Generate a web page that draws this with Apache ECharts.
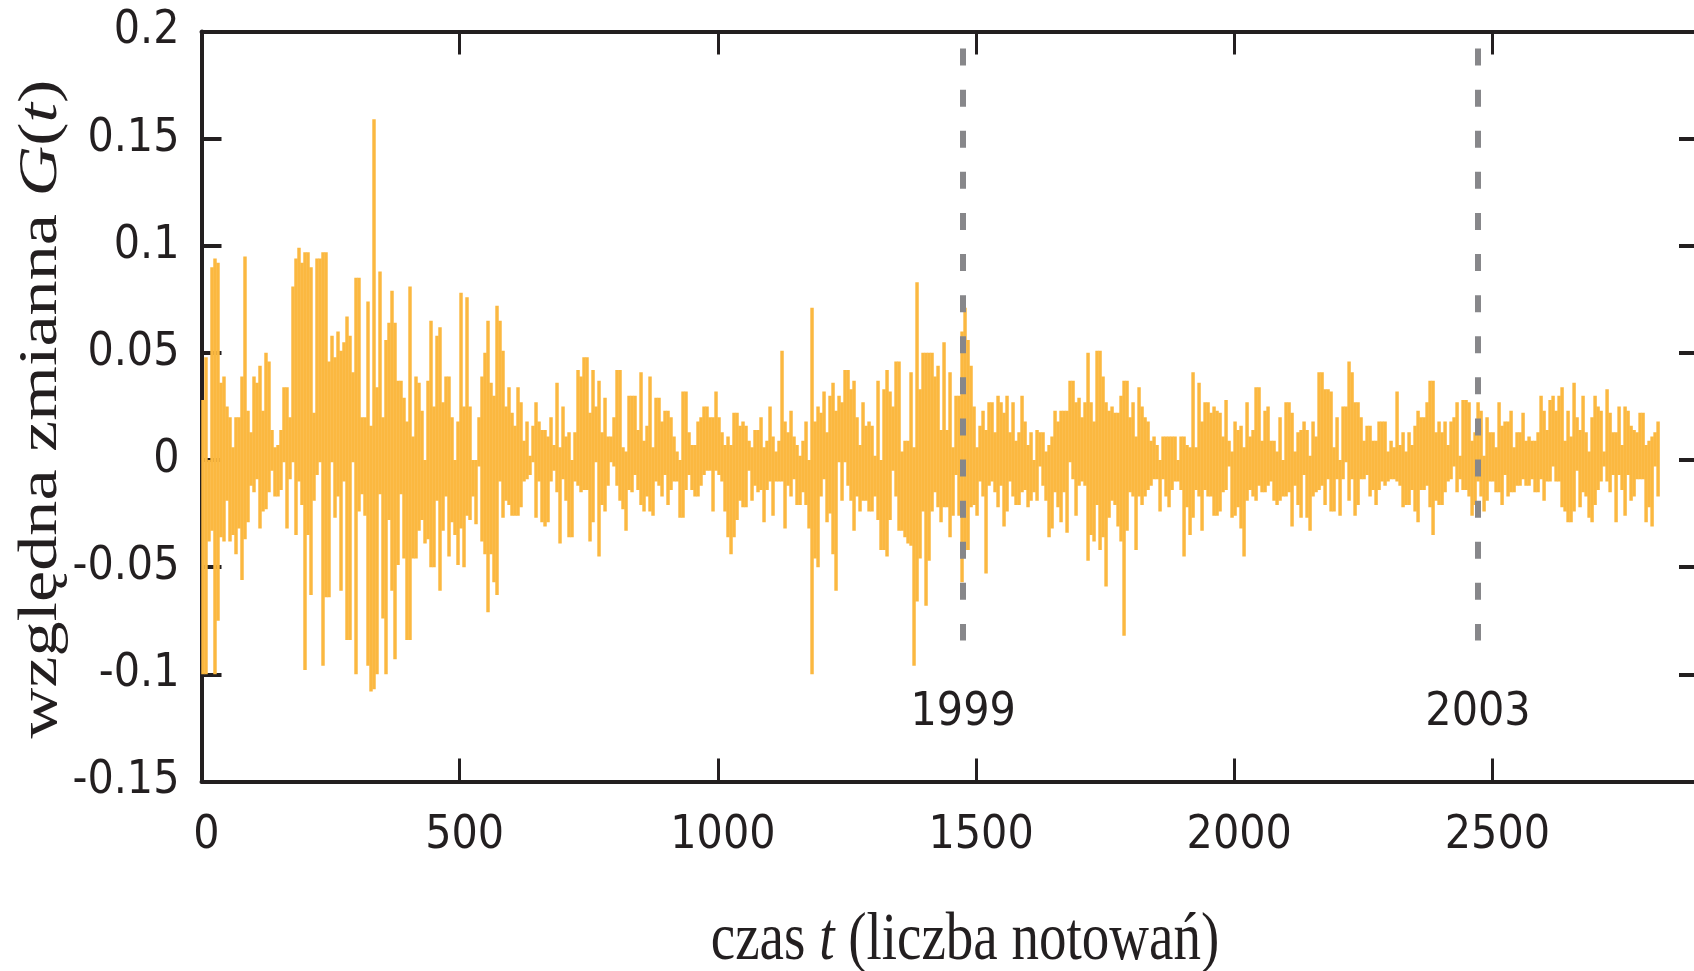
<!DOCTYPE html>
<html><head><meta charset="utf-8">
<script src="https://cdn.jsdelivr.net/npm/echarts@6/dist/echarts.min.js"></script>
<style>html,body{margin:0;padding:0;background:#fff}#c{width:1694px;height:971px}</style>
</head><body><div id="c"></div>
<script>
// ---- data (one column ≈ 5.81 time steps) ----
const T_STEP = 5.81;
const X_TICKS = [0, 500, 1000, 1500, 2000, 2500];
const Y_TICKS = [-0.15, -0.1, -0.05, 0, 0.05, 0.1, 0.15, 0.2];
const YEAR_LABELS = ['1999', '2003'];
const YEAR_T = [1475, 2472];
const DASH_TOP = 0.192, DASH_BOTTOM = -0.0842;

const HI_1 = [0.028,0.048,0.0,0.09,0.094,0.092,0.036,0.039,0.025,0.02,
0.006,0.02,0.02,0.039,0.095,0.023,0.013,0.039,0.036,0.044,
0.023,0.05,0.046,0.014,0.006,0.007,0.014,0.034,0.034,0.02,
0.081,0.094,0.099,0.092,0.097,0.097,0.09,0.022,0.094,0.094,
0.097,0.097,0.046,0.058,0.048,0.06,0.051,0.055,0.067,0.058,
0.041,0.085,0.085,0.02,0.02,0.074,0.016,0.159,0.034,0.088,
0.02,0.056,0.064,0.079,0.064,0.037,0.037,0.029,0.018,0.081,
0.011,0.039,0.036,0.023,0.0,0.037,0.065,0.025,0.058,0.062,
0.027,0.039,0.039,0.02,0.0,0.018,0.078,0.025,0.076,0.025,
0.0,0.0,0.02,0.039,0.05,0.065,0.036,0.03,0.072,0.065,
0.051,0.025,0.034,0.022,0.016,0.034,0.027,0.009,0.018,0.002,
0.016,0.027,0.018,0.014,0.014,0.011,0.02,0.007,0.036,0.006,
0.025,0.011,0.013,0.0,0.013,0.042,0.039,0.048,0.048,0.022,
0.042,0.025,0.037,0.013,0.029,0.011,0.011,0.02,0.042,0.042,
0.006,0.004,0.03,0.03,0.03,0.014,0.041,0.009,0.016,0.039,
0.006,0.029,0.029,0.018,0.023,0.023,0.02,0.011,0.004];
const LO_1 = [-0.1,-0.1,-0.038,-0.033,-0.1,-0.075,-0.036,-0.038,-0.019,-0.038,
-0.035,-0.044,-0.032,-0.056,-0.037,-0.029,-0.012,-0.015,-0.009,-0.032,
-0.024,-0.023,-0.015,-0.005,-0.017,-0.017,-0.014,-0.001,-0.032,-0.009,
-0.001,-0.035,-0.01,-0.021,-0.098,-0.035,-0.063,-0.019,-0.007,-0.001,
-0.096,-0.064,-0.064,-0.001,-0.027,-0.017,-0.061,-0.01,-0.084,-0.084,
-0.001,-0.1,-0.024,-0.016,-0.026,-0.096,-0.108,-0.107,-0.1,-0.016,
-0.074,-0.1,-0.028,-0.061,-0.093,-0.049,-0.016,-0.046,-0.084,-0.084,
-0.046,-0.046,-0.033,-0.028,-0.039,-0.037,-0.05,-0.05,-0.019,-0.061,
-0.033,-0.017,-0.045,-0.029,-0.035,-0.049,-0.032,-0.05,-0.026,-0.028,
-0.017,-0.03,-0.003,-0.038,-0.044,-0.071,-0.044,-0.057,-0.063,-0.01,
-0.027,-0.019,-0.021,-0.026,-0.026,-0.026,-0.022,-0.01,-0.009,-0.007,
-0.001,-0.027,-0.01,-0.029,-0.031,-0.029,-0.01,-0.005,-0.015,-0.039,
-0.009,-0.019,-0.036,-0.036,-0.01,-0.012,-0.015,-0.014,-0.014,-0.038,
-0.029,-0.001,-0.045,-0.021,-0.024,-0.012,-0.001,-0.003,-0.012,-0.019,
-0.023,-0.033,-0.014,-0.015,-0.007,-0.014,-0.021,-0.024,-0.017,-0.024,
-0.026,-0.01,-0.012,-0.017,-0.007,-0.021,-0.014,-0.01,-0.01];

const HI_2 = [0.0,0.032,0.032,0.013,0.007,0.007,0.018,0.02,0.025,0.025,
0.02,0.02,0.032,0.02,0.013,0.007,0.011,0.007,0.022,0.022,
0.016,0.018,0.016,0.009,0.006,0.014,0.014,0.02,0.006,0.009,
0.025,0.011,0.004,0.009,0.051,0.018,0.013,0.023,0.011,0.007,
0.002,0.009,0.018,0.0,0.071,0.018,0.025,0.022,0.032,0.013,
0.03,0.036,0.023,0.03,0.027,0.042,0.042,0.033,0.037,0.02,
0.007,0.027,0.016,0.018,0.016,0.002,0.037,0.0,0.033,0.042,
0.032,0.025,0.046,0.046,0.004,0.009,0.009,0.041,0.006,0.083,
0.033,0.05,0.05,0.05,0.05,0.039,0.044,0.014,0.055,0.014,
0.041,0.006,0.03,0.03,0.06,0.071,0.056,0.044,0.025,0.006,
0.016,0.023,0.014,0.027,0.027,0.013,0.03,0.027,0.022,0.03,
0.013,0.027,0.009,0.013,0.03,0.018,0.007,0.013,0.0,0.014,
0.013,0.013,0.004,0.007,0.011,0.023,0.018,0.023,0.023,0.023,
0.037,0.037,0.027,0.029,0.02,0.027,0.05,0.027,0.018,0.051,
0.051,0.039,0.027,0.023,0.025,0.022,0.022,0.03,0.037,0.037,
0.02,0.027,0.011,0.034,0.025,0.02,0.018,0.009,0.011,0.007,
0.0,0.011,0.011,0.011,0.011,0.011,0.0];
const LO_2 = [-0.027,-0.027,-0.014,-0.007,-0.014,-0.017,-0.017,-0.012,-0.007,-0.005,
-0.005,-0.024,-0.005,-0.007,-0.01,-0.024,-0.036,-0.044,-0.036,-0.028,
-0.019,-0.022,-0.022,-0.005,-0.019,-0.012,-0.015,-0.014,-0.029,-0.014,
-0.01,-0.026,-0.01,-0.01,-0.01,-0.032,-0.012,-0.017,-0.009,-0.021,
-0.021,-0.015,-0.021,-0.032,-0.1,-0.046,-0.05,-0.017,-0.009,-0.029,
-0.025,-0.044,-0.061,-0.001,-0.019,-0.001,-0.012,-0.019,-0.033,-0.017,
-0.024,-0.019,-0.019,-0.024,-0.024,-0.017,-0.028,-0.042,-0.042,-0.045,
-0.028,-0.005,-0.017,-0.033,-0.033,-0.036,-0.039,-0.04,-0.096,-0.066,
-0.046,-0.024,-0.068,-0.047,-0.024,-0.015,-0.022,-0.029,-0.022,-0.022,
-0.036,-0.026,-0.007,-0.026,-0.057,-0.042,-0.042,-0.022,-0.021,-0.026,
-0.01,-0.017,-0.053,-0.012,-0.01,-0.015,-0.022,-0.012,-0.031,-0.024,
-0.01,-0.017,-0.021,-0.021,-0.015,-0.014,-0.022,-0.019,-0.015,-0.019,
-0.003,-0.012,-0.019,-0.036,-0.032,-0.015,-0.022,-0.029,-0.015,-0.034,
-0.001,-0.009,-0.026,-0.012,-0.01,-0.012,-0.047,-0.035,-0.038,-0.021,
-0.042,-0.036,-0.059,-0.027,-0.019,-0.021,-0.031,-0.038,-0.082,-0.033,
-0.015,-0.017,-0.042,-0.017,-0.021,-0.017,-0.014,-0.012,-0.009,-0.009,
-0.024,-0.009,-0.017,-0.022,-0.014,-0.01,-0.01];

const HI_3 = [0.011,0.011,0.007,0.006,0.041,0.006,0.036,0.018,0.027,0.027,
0.022,0.025,0.023,0.022,0.011,0.028,0.009,0.004,0.018,0.014,
0.016,0.006,0.027,0.011,0.014,0.034,0.034,0.009,0.023,0.025,
0.009,0.009,0.004,0.02,0.0,0.027,0.027,0.022,0.004,0.013,
0.014,0.018,0.014,0.002,0.018,0.011,0.041,0.041,0.033,0.033,
0.032,0.006,0.02,0.0,0.025,0.025,0.046,0.041,0.027,0.027,
0.02,0.009,0.016,0.016,0.009,0.009,0.018,0.018,0.018,0.004,
0.009,0.006,0.032,0.007,0.013,0.004,0.013,0.007,0.016,0.023,
0.02,0.02,0.027,0.037,0.037,0.013,0.018,0.013,0.018,0.007,
0.018,0.02,0.027,0.002,0.028,0.028,0.027,0.009,0.013,0.027,
0.023,0.002,0.02,0.013,0.013,0.006,0.027,0.016,0.018,0.018,
0.023,0.006,0.013,0.013,0.022,0.009,0.011,0.009,0.009,0.013,
0.03,0.023,0.014,0.028,0.03,0.023,0.03,0.034,0.009,0.023,
0.011,0.036,0.02,0.014,0.03,0.013,0.004,0.02,0.03,0.025,
0.023,0.004,0.033,0.022,0.013,0.013,0.025,0.007,0.025,0.023,
0.016,0.014,0.013,0.022,0.022,0.007,0.009,0.011,0.013,0.018];
const LO_3 = [-0.014,-0.045,-0.022,-0.035,-0.027,-0.014,-0.017,-0.033,-0.014,-0.017,
-0.017,-0.026,-0.026,-0.024,-0.015,-0.014,-0.003,-0.027,-0.026,-0.022,
-0.032,-0.045,-0.019,-0.014,-0.017,-0.019,-0.012,-0.015,-0.015,-0.012,
-0.01,-0.019,-0.021,-0.019,-0.017,-0.017,-0.015,-0.031,-0.012,-0.021,
-0.027,-0.007,-0.027,-0.033,-0.017,-0.015,-0.014,-0.012,-0.021,-0.009,
-0.024,-0.024,-0.009,-0.026,-0.009,-0.001,-0.019,-0.009,-0.026,-0.021,
-0.009,-0.009,-0.007,-0.017,-0.014,-0.021,-0.014,-0.01,-0.012,-0.01,
-0.009,-0.009,-0.01,-0.012,-0.022,-0.021,-0.021,-0.014,-0.024,-0.029,
-0.014,-0.014,-0.012,-0.022,-0.035,-0.019,-0.021,-0.021,-0.015,-0.01,
-0.009,-0.003,-0.015,-0.009,-0.014,-0.014,-0.017,-0.026,-0.021,-0.01,
-0.017,-0.024,-0.019,-0.01,-0.01,-0.015,-0.015,-0.021,-0.007,-0.017,
-0.015,-0.015,-0.012,-0.012,-0.009,-0.012,-0.012,-0.009,-0.015,-0.015,
-0.009,-0.019,-0.01,-0.01,-0.003,-0.01,-0.01,-0.022,-0.024,-0.029,
-0.029,-0.024,-0.005,-0.022,-0.015,-0.017,-0.027,-0.029,-0.021,-0.014,
-0.01,-0.003,-0.01,-0.015,-0.007,-0.029,-0.007,-0.014,-0.026,-0.007,
-0.019,-0.017,-0.009,-0.009,-0.009,-0.029,-0.022,-0.031,-0.003,-0.017];

// ---- build: one range column per time step block [t, high, low] ----
const HI = HI_1.concat(HI_2, HI_3);
const LO = LO_1.concat(LO_2, LO_3);
const rangeData = HI.map((v, i) => [(i + 0.5) * T_STEP, v, LO[i]]);

const AX = '#231f20';
const ORANGE = '#fbb840';
const NUM_FONT = "'Liberation Sans Narrow','Arial Narrow','DejaVu Sans Condensed',sans-serif";
const SERIF = "'Liberation Serif','Times New Roman',serif";
const X_MAX = 2900;

const chart = echarts.init(document.getElementById('c'), null, {renderer: 'canvas'});
const baseX = {
  type: 'value', min: 0, max: X_MAX, interval: X_TICKS[1] - X_TICKS[0],
  axisLine: {show: true, onZero: false, lineStyle: {color: AX, width: 4}},
  axisTick: {show: true, inside: true, length: 23, lineStyle: {color: AX, width: 3}},
  splitLine: {show: false}
};
const baseY = {
  type: 'value', min: Y_TICKS[0], max: Y_TICKS[Y_TICKS.length - 1], interval: 0.05,
  axisLine: {show: true, onZero: false, lineStyle: {color: AX, width: 4}},
  axisTick: {show: true, inside: true, length: 20, lineStyle: {color: AX, width: 4}},
  splitLine: {show: false}
};
function renderColumn(params, api) {
  const t = api.value(0);
  const top = api.coord([t, api.value(1)]);
  const bot = api.coord([t, api.value(2)]);
  const w = api.size([T_STEP, 0])[0] * 1.15;
  return {
    type: 'rect',
    shape: {x: top[0] - w / 2, y: top[1], width: w, height: bot[1] - top[1]},
    style: {fill: ORANGE}
  };
}
const option = {
  animation: false,
  backgroundColor: '#fff',
  grid: {left: 201.5, top: 31.43, right: -5, bottom: 189.57, outerBoundsMode: 'none', containLabel: false},
  xAxis: [
    Object.assign({}, baseX, {position: 'bottom',
      axisLabel: {show: true, showMaxLabel: false, fontFamily: NUM_FONT, fontSize: 46, color: AX, margin: 32,
        padding: [0, 0, 0, 10], formatter: v => String(v)}}),
    Object.assign({}, baseX, {position: 'top', axisLabel: {show: false}})
  ],
  yAxis: [
    Object.assign({}, baseY, {position: 'left',
      axisLabel: {show: true, fontFamily: NUM_FONT, fontSize: 46, color: AX, margin: 22, formatter: v => String(+v.toFixed(2))}}),
    Object.assign({}, baseY, {position: 'right', axisLabel: {show: false}})
  ],
  series: [
    {
      type: 'custom', name: 'G(t)', data: rangeData, renderItem: renderColumn,
      encode: {x: 0, y: [1, 2]}, silent: true, clip: true
    },
    {
      type: 'line', name: 'years', data: [], silent: true,
      markLine: {
        symbol: ['none', 'none'], silent: true, animation: false,
        lineStyle: {type: [17, 24.1], width: 6, color: '#87878a', cap: 'butt'},
        emphasis: {disabled: true},
        label: {show: true, position: 'end', distance: 50, fontFamily: NUM_FONT, fontSize: 46, color: AX,
          formatter: p => YEAR_LABELS[p.dataIndex]},
        data: YEAR_T.map(t => [{coord: [t, DASH_TOP]}, {coord: [t, DASH_BOTTOM]}])
      }
    }
  ],
  graphic: [
    {
      type: 'text', x: 42, y: 409, rotation: Math.PI / 2, scaleX: 1.3, silent: true,
      style: {
        text: '{r|względna zmianna }{i|G}{r|(}{i|t}{r|)}',
        align: 'center', verticalAlign: 'middle', fill: AX, fontFamily: SERIF, fontSize: 54,
        rich: {
          r: {fontFamily: SERIF, fontSize: 54, fill: AX},
          i: {fontFamily: SERIF, fontSize: 54, fontStyle: 'italic', fill: AX}
        }
      }
    },
    {
      type: 'text', x: 965, y: 941, scaleY: 1.22, silent: true,
      style: {
        text: '{r|czas }{i|t}{r| (liczba notowań)}',
        align: 'center', verticalAlign: 'middle', fill: AX, fontFamily: SERIF, fontSize: 55,
        rich: {
          r: {fontFamily: SERIF, fontSize: 55, fill: AX},
          i: {fontFamily: SERIF, fontSize: 55, fontStyle: 'italic', fill: AX}
        }
      }
    }
  ]
};
chart.setOption(option);
</script>
</body></html>
